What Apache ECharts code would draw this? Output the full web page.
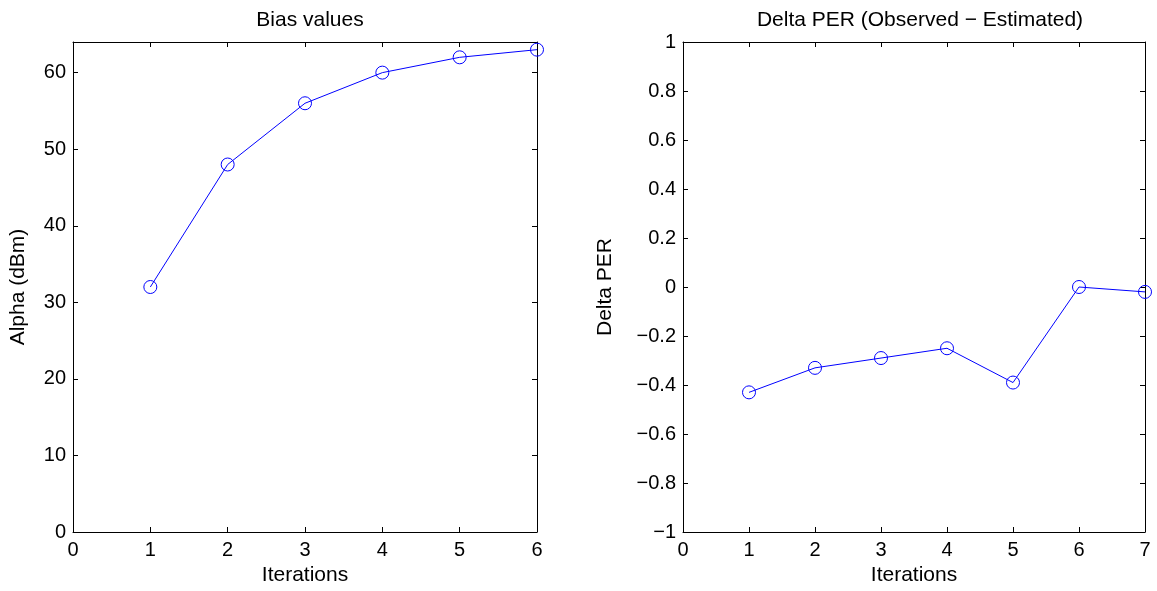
<!DOCTYPE html>
<html><head><meta charset="utf-8">
<script src="https://cdn.jsdelivr.net/npm/echarts@6/dist/echarts.min.js"></script>
<style>html,body{margin:0;padding:0;background:#fff}#c{width:1157px;height:591px}</style>
</head><body><div id="c"></div>
<script>
const iterLeft = [1, 2, 3, 4, 5, 6];
const alphaValues = [32, 48, 56, 60, 62, 63];
const iterRight = [1, 2, 3, 4, 5, 6, 7];
const deltaPer = [-0.43, -0.33, -0.29, -0.25, -0.39, 0, -0.02];
const leftTitle = 'Bias values';
const rightTitle = 'Delta PER (Observed \u2212 Estimated)';

const FONT = 'Liberation Sans, Arial, Helvetica, sans-serif';
const chart = echarts.init(document.getElementById('c'), null, {renderer: 'canvas'});
const lbl = {color: '#000', fontFamily: FONT, fontSize: 20};
const nameStyle = {color: '#000', fontFamily: FONT, fontSize: 21};
const axLine = {show: true, onZero: false, lineStyle: {color: '#000', width: 1}};
const tick = {show: true, inside: true, length: 5, lineStyle: {color: '#000', width: 1}};
const fmtNum = v => (v < 0 ? '\u2212' + String(-v) : String(v));

function mkX(grid, max, show, pos) {
  return {type: 'value', gridIndex: grid, position: pos, min: 0, max: max, interval: 1,
    axisLine: axLine, axisTick: tick, splitLine: {show: false},
    axisLabel: Object.assign({show: show, margin: 8}, lbl),
    name: show ? 'Iterations' : '', nameLocation: 'middle', nameGap: 33,
    nameTextStyle: nameStyle};
}
function mkY(grid, min, max, interval, show, pos, name, gap, fmt) {
  return {type: 'value', gridIndex: grid, position: pos, min: min, max: max, interval: interval,
    axisLine: axLine, axisTick: tick, splitLine: {show: false},
    axisLabel: Object.assign({show: show, margin: 7, formatter: fmt}, lbl),
    name: show ? name : '', nameLocation: 'middle', nameGap: gap, nameTextStyle: nameStyle};
}
const seriesStyle = {
  type: 'line', symbol: 'circle', symbolSize: 13,
  itemStyle: {color: 'rgba(255,255,255,0)', borderColor: '#0000ff', borderWidth: 1},
  lineStyle: {color: '#0000ff', width: 1}, animation: false
};
const titleStyle = {color: '#000', fontFamily: FONT, fontSize: 21, fontWeight: 'normal'};

chart.setOption({
  animation: false,
  title: [
    {text: leftTitle, left: 305, top: 5, textAlign: 'center', textStyle: titleStyle},
    {text: rightTitle, left: 915, top: 5, textAlign: 'center', textStyle: titleStyle}
  ],
  grid: [
    {left: 73, right: 620, top: 42, bottom: 56, containLabel: false},
    {left: 683, right: 12, top: 42, bottom: 56, containLabel: false}
  ],
  xAxis: [
    mkX(0, 6, true, 'bottom'), mkX(0, 6, false, 'top'),
    mkX(1, 7, true, 'bottom'), mkX(1, 7, false, 'top')
  ],
  yAxis: [
    mkY(0, 0, 64, 10, true, 'left', 'Alpha (dBm)', 44, v => (v % 10 === 0 ? String(v) : '')),
    mkY(0, 0, 64, 10, false, 'right', '', 0),
    mkY(1, -1, 1, 0.2, true, 'left', 'Delta PER', 67, v => fmtNum(Math.round(v * 10) / 10)),
    mkY(1, -1, 1, 0.2, false, 'right', '', 0)
  ],
  series: [
    Object.assign({xAxisIndex: 0, yAxisIndex: 0, data: iterLeft.map((x, i) => [x, alphaValues[i]])}, seriesStyle),
    Object.assign({xAxisIndex: 2, yAxisIndex: 2, data: iterRight.map((x, i) => [x, deltaPer[i]])}, seriesStyle)
  ]
});
</script></body></html>
